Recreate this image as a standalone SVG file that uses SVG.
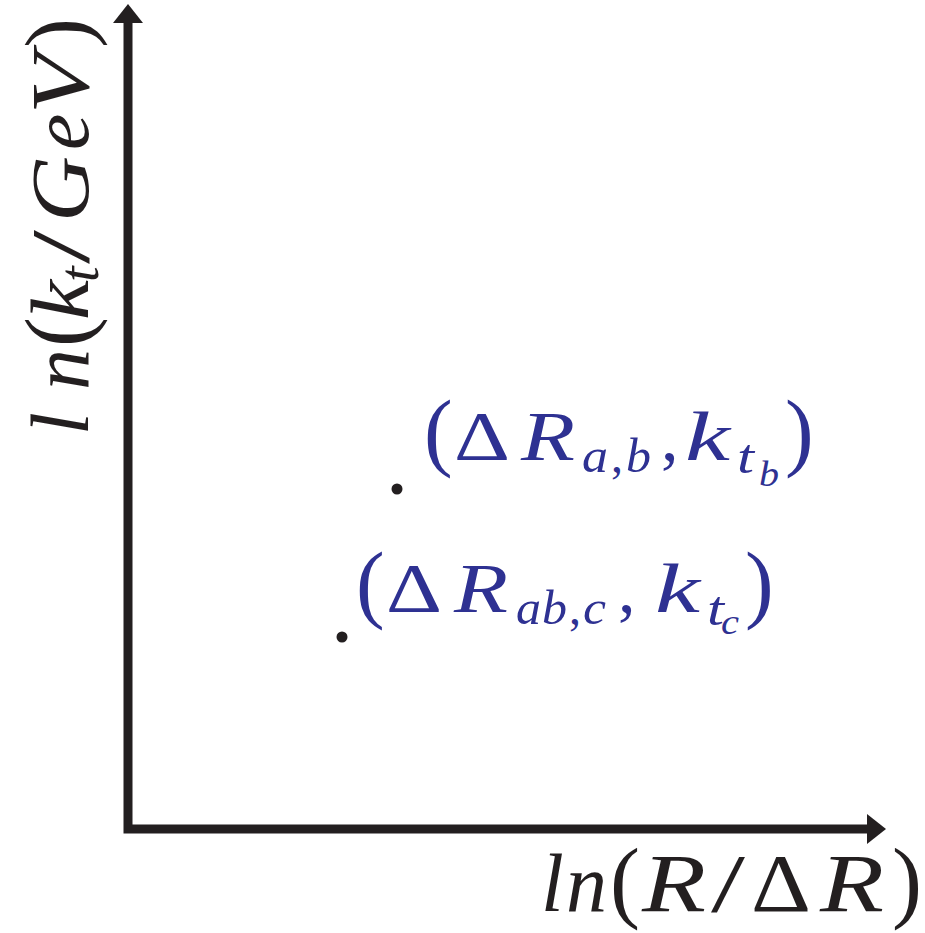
<svg xmlns="http://www.w3.org/2000/svg" width="925" height="933" viewBox="0 0 925 933">
<rect width="925" height="933" fill="#ffffff"/>
<g id="axes">
<polyline points="128,20 128,829 870,829" stroke="#231f20" stroke-width="9" fill="none"/>
<polygon points="128,4 113,23 143,23" fill="#231f20"/>
<polygon points="886,829 867,814 867,844" fill="#231f20"/>
</g>
<g id="ylabel">
<text font-family="Liberation Serif" fill="#231f20" font-size="82" transform="translate(88,0) rotate(-90)"><tspan font-style="italic" x="-435">l</tspan><tspan font-style="italic" x="-390">n</tspan><tspan x="-347" font-size="90">(</tspan><tspan font-style="italic" x="-320" textLength="40" lengthAdjust="spacingAndGlyphs">k</tspan><tspan font-style="italic" x="-282" y="10" font-size="56">t</tspan><tspan x="-264" y="0" textLength="34" lengthAdjust="spacingAndGlyphs">/</tspan><tspan font-style="italic" x="-222" textLength="66" lengthAdjust="spacingAndGlyphs">G</tspan><tspan font-style="italic" x="-150">e</tspan><tspan font-style="italic" x="-114" textLength="60" lengthAdjust="spacingAndGlyphs">V</tspan><tspan x="-48" font-size="90">)</tspan></text>
</g>
<g id="xlabel">
<text font-family="Liberation Serif" fill="#231f20" font-size="82" y="911"><tspan font-style="italic" x="541">l</tspan><tspan font-style="italic" x="566">n</tspan><tspan x="610" font-size="90">(</tspan><tspan font-style="italic" x="642" textLength="64" lengthAdjust="spacingAndGlyphs">R</tspan><tspan x="711" textLength="34" lengthAdjust="spacingAndGlyphs">/</tspan><tspan x="751" textLength="60" lengthAdjust="spacingAndGlyphs">Δ</tspan><tspan font-style="italic" x="820" textLength="64" lengthAdjust="spacingAndGlyphs">R</tspan><tspan x="892" font-size="90">)</tspan></text>
</g>
<g id="point-ab">
<circle cx="397" cy="489" r="5.5" fill="#231f20"/>
<text font-family="Liberation Serif" fill="#2e3192" font-size="70" y="460"><tspan x="424" font-size="86">(</tspan><tspan x="454" textLength="56" lengthAdjust="spacingAndGlyphs">Δ</tspan><tspan font-style="italic" x="521" textLength="54" lengthAdjust="spacingAndGlyphs">R</tspan><tspan font-style="italic" x="582" y="472" font-size="48" textLength="26" lengthAdjust="spacingAndGlyphs">a</tspan><tspan x="611" font-size="48">,</tspan><tspan font-style="italic" x="626" font-size="48" textLength="25" lengthAdjust="spacingAndGlyphs">b</tspan><tspan x="661" y="460">,</tspan><tspan font-style="italic" x="685" textLength="45" lengthAdjust="spacingAndGlyphs">k</tspan><tspan font-style="italic" x="737" y="473" font-size="48" textLength="17" lengthAdjust="spacingAndGlyphs">t</tspan><tspan font-style="italic" x="759" y="486" font-size="36" textLength="20" lengthAdjust="spacingAndGlyphs">b</tspan><tspan x="785" y="460" font-size="86">)</tspan></text>
</g>
<g id="point-abc">
<circle cx="342" cy="637" r="5.5" fill="#231f20"/>
<text font-family="Liberation Serif" fill="#2e3192" font-size="70" y="612"><tspan x="356" font-size="86">(</tspan><tspan x="386" textLength="56" lengthAdjust="spacingAndGlyphs">Δ</tspan><tspan font-style="italic" x="454" textLength="54" lengthAdjust="spacingAndGlyphs">R</tspan><tspan font-style="italic" x="516" y="624" font-size="48" textLength="25" lengthAdjust="spacingAndGlyphs">a</tspan><tspan font-style="italic" x="542" font-size="48" textLength="25" lengthAdjust="spacingAndGlyphs">b</tspan><tspan x="569" font-size="48">,</tspan><tspan font-style="italic" x="583" font-size="48" textLength="23" lengthAdjust="spacingAndGlyphs">c</tspan><tspan x="618" y="612">,</tspan><tspan font-style="italic" x="655" textLength="45" lengthAdjust="spacingAndGlyphs">k</tspan><tspan font-style="italic" x="707" y="625" font-size="48" textLength="17" lengthAdjust="spacingAndGlyphs">t</tspan><tspan font-style="italic" x="721" y="634" font-size="36" textLength="18" lengthAdjust="spacingAndGlyphs">c</tspan><tspan x="745" y="612" font-size="86">)</tspan></text>
</g>
</svg>
